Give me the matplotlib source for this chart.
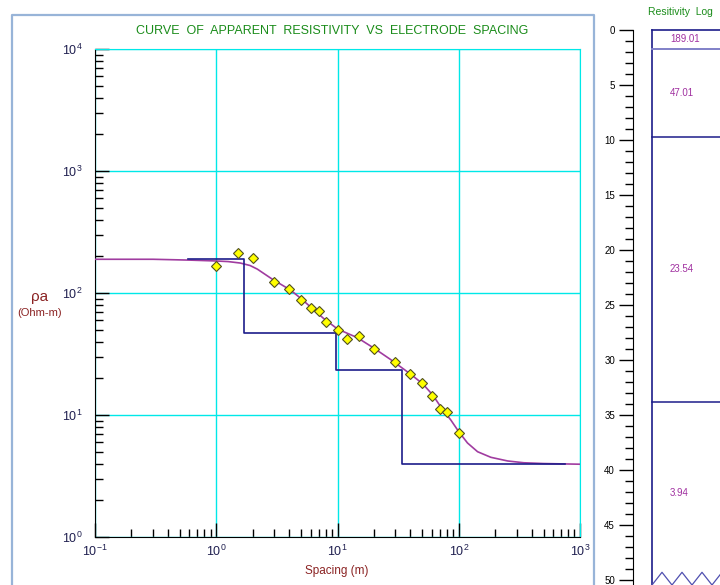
import numpy as np
import matplotlib
matplotlib.use("Agg")
import matplotlib.pyplot as plt
from matplotlib.lines import Line2D
from matplotlib.ticker import LogLocator, MultipleLocator, NullFormatter

plt.rcParams['font.family'] = ['Liberation Sans', 'DejaVu Sans']
plt.rcParams['mathtext.fontset'] = 'custom'
plt.rcParams['mathtext.rm'] = 'Liberation Sans'

# field data: electrode spacing (m) vs apparent resistivity (Ohm-m)
spacing = [1.0, 1.5, 2.0, 3.0, 4.0, 5.0, 6.0, 7.0, 8.0, 10, 12, 15, 20,
           30, 40, 50, 60, 70, 80, 100]
rho_obs = [166, 213, 194, 123, 108, 88, 75, 71, 58, 50, 42, 44, 35,
           27, 21.6, 18.3, 14.3, 11.3, 10.6, 7.1]

# fitted model curve
curve_x = [0.1, 0.3, 0.61, 1.0, 1.25, 1.58, 1.9, 2.18, 2.96, 4.08, 4.94,
           5.98, 7.66, 10, 14.6, 19.9, 27.4, 40.1, 50.5, 61, 73, 86, 100,
           118, 143, 184, 253, 344, 502, 1000]
curve_y = [189, 189, 186, 183, 181, 176, 168, 157, 128, 106, 91,
           77, 62, 50.7, 43, 35.4, 28.5, 21.6, 18.0, 14.6, 11.2, 9.1, 7.3,
           5.9, 5.0, 4.5, 4.2, 4.06, 4.0, 3.95]

# layered model
layer_rho = [189.01, 47.01, 23.54, 3.94]
layer_depth = [1.7, 9.7, 33.8]
model_start = 0.59
model_end = 750
depth_max = 50

W, H = 720, 585
fig = plt.figure(figsize=(W / 100, H / 100), dpi=100)

navy = '#1c1c8a'
purple = '#a03ca0'
cyan = '#00e8e8'

# ---- main sounding curve ----
ax = fig.add_axes([95 / W, 48 / H, 485 / W, 488 / H])
ax.set_xscale('log')
ax.set_yscale('log')
ax.set_xlim(0.1, 1000)
ax.set_ylim(1, 1e4)
ax.grid(True, which='major', color=cyan, lw=1)
ax.set_axisbelow(True)
for s in ['top', 'right']:
    ax.spines[s].set_color(cyan)
for s in ['left', 'bottom']:
    ax.spines[s].set_color('black')
ax.xaxis.set_major_locator(LogLocator(base=10, numticks=10))
ax.yaxis.set_major_locator(LogLocator(base=10, numticks=10))
ax.xaxis.set_minor_locator(LogLocator(base=10, subs=np.arange(2, 10), numticks=20))
ax.yaxis.set_minor_locator(LogLocator(base=10, subs=np.arange(2, 10), numticks=20))
ax.xaxis.set_minor_formatter(NullFormatter())
ax.yaxis.set_minor_formatter(NullFormatter())
ax.tick_params(which='major', direction='in', length=10, width=1, color='black',
               labelsize=9, labelcolor='#202050', pad=9)
ax.tick_params(axis='x', which='major', pad=5)
ax.tick_params(which='minor', direction='in', length=5.5, width=1, color='black')

ax.plot(curve_x, curve_y, color=purple, lw=1.2, zorder=3)
step_x = [model_start] + layer_depth + [model_end]
step_y = layer_rho + [layer_rho[-1]]
ax.step(step_x, step_y, where='post', color=navy, lw=1.2, zorder=4)
ax.plot(spacing, rho_obs, ls='none', marker='D', markersize=5,
        markerfacecolor='#ffff00', markeredgecolor='#505020', markeredgewidth=0.8,
        zorder=5)

fig.text(332 / W, 1 - 31 / H, 'CURVE  OF  APPARENT  RESISTIVITY  VS  ELECTRODE  SPACING',
         color='#1a8c1a', fontsize=9, ha='center', va='center')
fig.text(337 / W, 1 - 571 / H, 'Spacing (m)', color='#8b2323', fontsize=8.5,
         ha='center', va='center')
fig.text(40 / W, 1 - 297 / H, 'ρa', color='#8b2323', fontsize=11,
         ha='center', va='center')
fig.text(40 / W, 1 - 313 / H, '(Ohm-m)', color='#8b2323', fontsize=8,
         ha='center', va='center')

# outer frame
fc = '#98b4d8'
fig.add_artist(Line2D([12 / W, 12 / W, 594 / W, 594 / W], [0, 1 - 15 / H, 1 - 15 / H, 0],
                      transform=fig.transFigure, color=fc, lw=1.6))

# ---- resistivity log ----
ax2 = fig.add_axes([633 / W, 0, (W - 633) / W, 555 / H])
ax2.set_ylim(555 / 11, 0)
ax2.set_xlim(0, 1)
for s in ['top', 'right', 'bottom']:
    ax2.spines[s].set_visible(False)
ax2.set_xticks([])
ax2.yaxis.set_major_locator(MultipleLocator(5))
ax2.yaxis.set_minor_locator(MultipleLocator(1))
ax2.tick_params(which='major', direction='out', length=10, width=1, labelsize=7, pad=3)
ax2.tick_params(which='minor', direction='out', length=6, width=1)
ax2.set_yticks(np.arange(0, depth_max + 1, 5))

box_x = (652 - 633) / (W - 633)
ax2.plot([box_x, box_x], [0, 555 / 11], color=navy, lw=1.2, clip_on=False)
ax2.plot([box_x, 1], [0, 0], color=navy, lw=1.2, clip_on=False)
for i, d in enumerate(layer_depth):
    c = '#8080c8' if i == 0 else navy
    ax2.plot([box_x, 1], [d, d], color=c, lw=1.4 if i == 0 else 1.1, clip_on=False)

tops = [0] + layer_depth
bots = layer_depth + [555 / 11]
lab_x = (670 - 633) / (W - 633)
for r, t, b in zip(layer_rho, tops, bots):
    ax2.text(lab_x, (t + b) / 2, f'{r:.2f}', color='#a030a0', fontsize=7,
             ha='left', va='center')

# zigzag "continues" mark at the bottom of the log
zz_x = np.arange(box_x, 1.05, 10 / (W - 633))
zz_y = np.where(np.arange(len(zz_x)) % 2 == 0, 555 / 11, 49.3)
ax2.plot(zz_x, zz_y, color='#5050b0', lw=0.9, clip_on=True)

fig.text(680 / W, 1 - 12 / H, 'Resitivity  Log', color='#1a8c1a', fontsize=7.5,
         ha='center', va='center')

fig.savefig('out.png', dpi=100)
